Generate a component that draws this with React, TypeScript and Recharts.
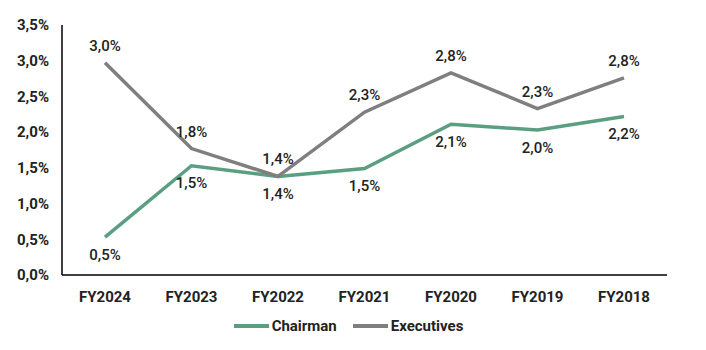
import React from "react";
import {
  LineChart,
  Line,
  XAxis,
  YAxis,
  Legend,
  LabelList
} from "recharts";

const years = ["FY2024", "FY2023", "FY2022", "FY2021", "FY2020", "FY2019", "FY2018"];
const chairman = [0.53, 1.53, 1.38, 1.49, 2.11, 2.03, 2.22];
const executives = [2.97, 1.77, 1.38, 2.28, 2.83, 2.33, 2.76];
const yTicks = [0, 0.5, 1, 1.5, 2, 2.5, 3, 3.5];

const GREEN = "#5b9e82";
const GRAY = "#7f7f7f";
const FONT = "Roboto, 'Noto Sans', sans-serif";

const data = years.map((year, i) => ({
  year,
  chairman: chairman[i],
  executives: executives[i]
}));

const pct = (v: number) => v.toFixed(1).replace(".", ",") + "%";

// custom legend: thick line swatch right against the name
const LegendBox = () => (
  <div
    style={{
      height: 42,
      paddingLeft: 30,
      display: "flex",
      justifyContent: "center",
      alignItems: "center",
      fontFamily: FONT,
      fontWeight: 700,
      fontSize: 15,
      color: "#222"
    }}
  >
    {[
      { name: "Chairman", color: GREEN },
      { name: "Executives", color: GRAY }
    ].map((item) => (
      <div key={item.name} style={{ display: "flex", alignItems: "center", margin: "0 8px" }}>
        <span style={{ display: "inline-block", width: 35, height: 4, background: item.color, marginRight: 3 }} />
        <span>{item.name}</span>
      </div>
    ))}
  </div>
);

const App: React.FC = () => {
  return (
    <div style={{ position: "absolute", left: 0, top: 0, width: 706, height: 350, background: "#fff" }}>
      <LineChart
        width={706}
        height={350}
        data={data}
        margin={{ top: 25, right: 39, left: 0, bottom: 3 }}
      >
        <XAxis
          dataKey="year"
          axisLine={{ stroke: "#000", strokeWidth: 1.5 }}
          tickLine={false}
          tickMargin={10}
          padding={{ left: 43, right: 43 }}
          tick={{ fill: "#222", fontSize: 15, fontWeight: 700, fontFamily: FONT }}
        />
        <YAxis
          width={62}
          domain={[0, 3.5]}
          ticks={yTicks}
          tickFormatter={pct}
          axisLine={{ stroke: "#000", strokeWidth: 1.5 }}
          tickLine={false}
          tickMargin={7}
          tick={{ fill: "#222", fontSize: 15, fontWeight: 700, fontFamily: FONT }}
        />
        <Legend verticalAlign="bottom" height={42} content={<LegendBox />} />
        <Line
          type="linear"
          dataKey="chairman"
          name="Chairman"
          stroke={GREEN}
          strokeWidth={3.5}
          dot={false}
          isAnimationActive={false}
        >
          <LabelList
            dataKey="chairman"
            position="bottom"
            offset={12}
            formatter={(v: number) => pct(v)}
            style={{ fill: "#222", fontSize: 15, fontWeight: 500, fontFamily: FONT }}
          />
        </Line>
        <Line
          type="linear"
          dataKey="executives"
          name="Executives"
          stroke={GRAY}
          strokeWidth={3.5}
          dot={false}
          isAnimationActive={false}
        >
          <LabelList
            dataKey="executives"
            position="top"
            offset={12}
            formatter={(v: number) => pct(v)}
            style={{ fill: "#222", fontSize: 15, fontWeight: 500, fontFamily: FONT }}
          />
        </Line>
      </LineChart>
    </div>
  );
};

export default App;
